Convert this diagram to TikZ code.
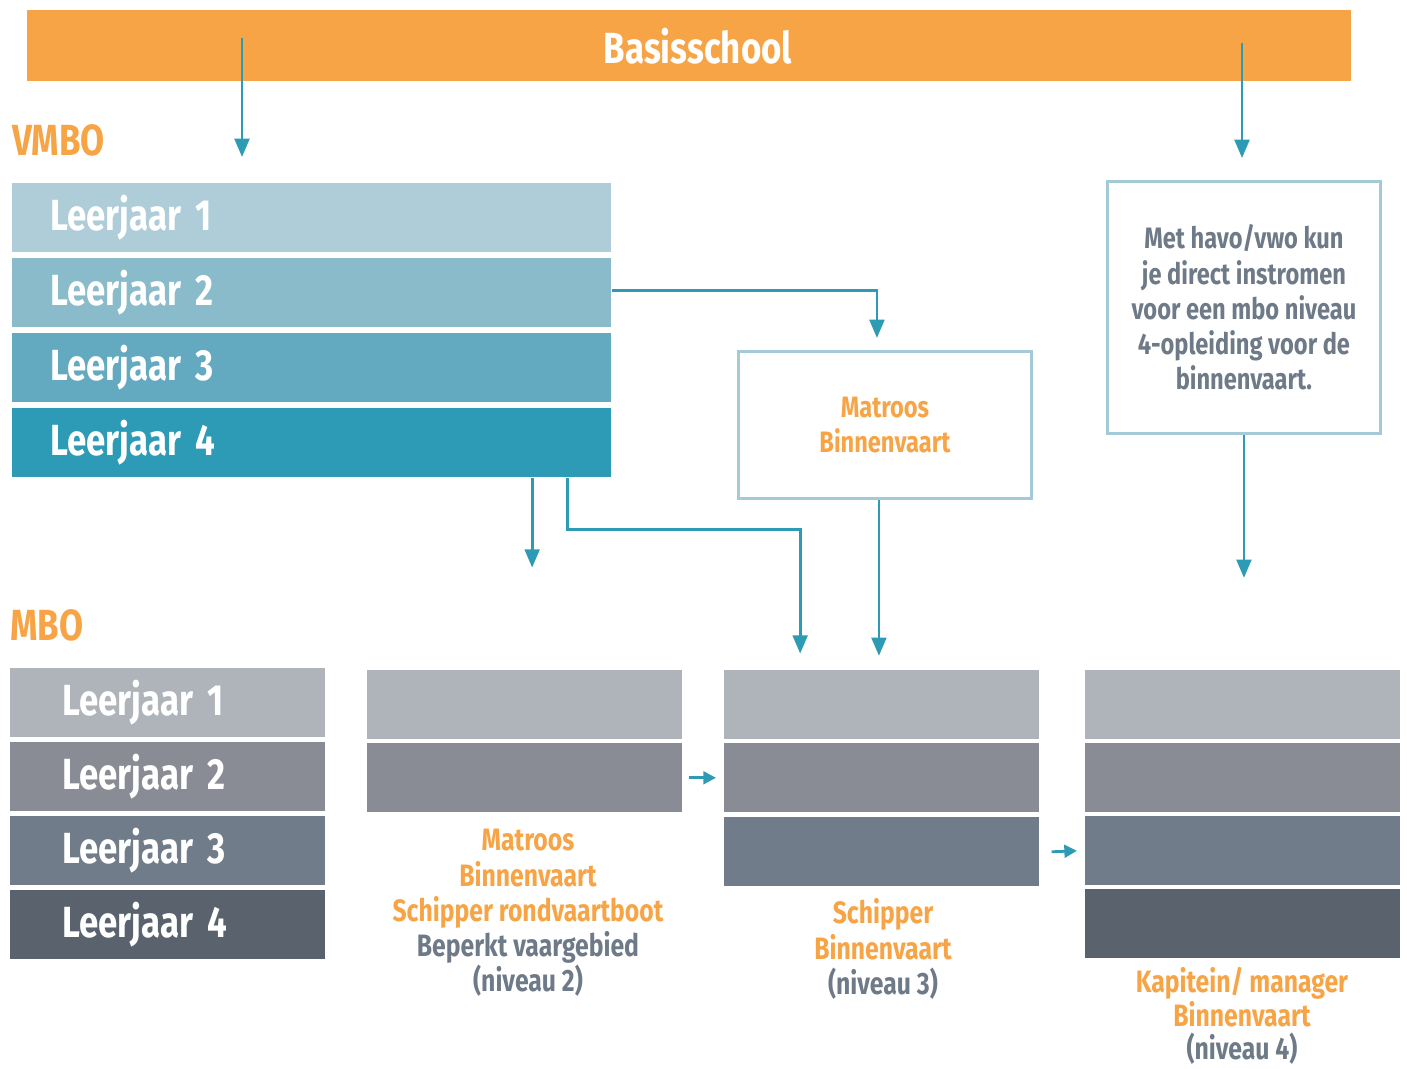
\documentclass[tikz,border=0pt]{standalone}
\usepackage{fontspec}
\setmainfont{Fira Sans}[FakeStretch=0.8]
\usetikzlibrary{arrows.meta}
\usetikzlibrary{positioning}

\definecolor{basisorange}{HTML}{F7A446}
\definecolor{arrowblue}{HTML}{2E9BB5}
\definecolor{boxline}{HTML}{A3CAD6}
\definecolor{txtgray}{HTML}{6E7A87}
\definecolor{vmboa}{HTML}{AECDD9}
\definecolor{vmbob}{HTML}{89BBCB}
\definecolor{vmboc}{HTML}{63A9C0}
\definecolor{vmbod}{HTML}{2D9BB5}
\definecolor{mboa}{HTML}{AFB3BA}
\definecolor{mbob}{HTML}{898C94}
\definecolor{mboc}{HTML}{717C8A}
\definecolor{mbod}{HTML}{5A636D}

\tikzset{
  flow/.style={draw=arrowblue, line width=2pt, -{Triangle[length=13pt,width=10.5pt]}},
  nudge/.style={draw=arrowblue, line width=2pt, -{Triangle[length=9pt,width=9pt]}},
  bigtext/.style={font=\bfseries\fontsize{31}{36}\selectfont},
  vbar/.style={bigtext, anchor=north west, inner sep=0pt, inner xsep=0.95cm,
    text width=13.075cm, minimum height=1.725cm, align=left, text=white},
  mbar/.style={bigtext, anchor=north west, inner sep=0pt, inner xsep=1.3cm,
    text width=5.275cm, minimum height=1.725cm, align=left, text=white},
  lane/.style={anchor=north west, inner sep=0pt, minimum width=7.875cm, minimum height=1.725cm},
  infobox/.style={draw=boxline, line width=2pt, anchor=north west, inner sep=0pt, align=center,
    font=\bfseries\fontsize{21}{25}\selectfont},
  caption/.style={align=center, text=basisorange, font=\bfseries\fontsize{22}{25}\selectfont},
}

\begin{document}
\begin{tikzpicture}[x=0.025cm,y=-0.025cm]
    \useasboundingbox (0,0) rectangle (1407,1069);
    % basisschool
    \node[fill=basisorange, anchor=north west, inner sep=0pt, minimum width=33.075cm,
      minimum height=1.775cm, text=white, bigtext] (basis) at (27,10) {\hspace{0.45cm}Basisschool};
    \coordinate (bl) at (242,38);
    \coordinate (br) at (1242,43);
    % vmbo
    \node[bigtext, text=basisorange, anchor=west, inner sep=0pt] (vmbo) at (12,140) {VMBO};
    \node[vbar, fill=vmboa] (v1) at (12,183) {Leerjaar 1};
    \node[vbar, fill=vmbob] (v2) at (12,258) {Leerjaar 2};
    \node[vbar, fill=vmboc] (v3) at (12,333) {Leerjaar 3};
    \node[vbar, fill=vmbod] (v4) at (12,408) {Leerjaar 4};
    \node[infobox, text=basisorange, minimum width=7.325cm, minimum height=3.675cm] (mat)
      at (737,350) {Matroos\\Binnenvaart};
    \node[infobox, text=txtgray, minimum width=6.825cm, minimum height=6.3cm] (havo)
      at (1106,180) {Met havo/vwo kun\\je direct instromen\\voor een mbo niveau\\4-opleiding voor de\\binnenvaart.};
    % mbo
    \node[bigtext, text=basisorange, anchor=west, inner sep=0pt] (mbo) at (10,625) {MBO};
    \node[mbar, fill=mboa] (m1) at (10,668) {Leerjaar 1};
    \node[mbar, fill=mbob] (m2) at (10,742) {Leerjaar 2};
    \node[mbar, fill=mboc] (m3) at (10,816) {Leerjaar 3};
    \node[mbar, fill=mbod] (m4) at (10,890) {Leerjaar 4};
    \node[lane, fill=mboa] (na) at (367,670) {};
    \node[lane, fill=mbob] (nb) at (367,743) {};
    \node[lane, fill=mboa] (sa) at (724,670) {};
    \node[lane, fill=mbob] (sb) at (724,743) {};
    \node[lane, fill=mboc] (sc) at (724,817) {};
    \node[lane, fill=mboa] (ka) at (1085,670) {};
    \node[lane, fill=mbob] (kb) at (1085,743) {};
    \node[lane, fill=mboc] (kc) at (1085,816) {};
    \node[lane, fill=mbod] (kd) at (1085,889) {};
    \node[caption] (nivtwee) at (528,913) {Matroos\\Binnenvaart\\Schipper rondvaartboot\\
      \textcolor{txtgray}{Beperkt vaargebied}\\\textcolor{txtgray}{(niveau 2)}};
    \node[caption] (nivdrie) at (883,949) {Schipper\\Binnenvaart\\\textcolor{txtgray}{(niveau 3)}};
    \node[caption, font=\bfseries\fontsize{22}{24}\selectfont] (nivvier) at (1242,1016)
      {Kapitein/ manager\\Binnenvaart\\\textcolor{txtgray}{(niveau 4)}};
    % connectors
    \draw[flow] (bl) -- ++(0,119);
    \draw[flow] (br) -- ++(0,115);
    \draw[flow] ([yshift=0.06cm]v2.east) -| ([xshift=-0.2cm,yshift=0.3cm]mat.north);
    \draw[flow] ([xshift=-0.15cm]mat.south) -- ++(0,156);
    \draw[flow] ([xshift=13cm]v4.south west) -- ++(0,90);
    \draw[flow] ([xshift=13.875cm]v4.south west) -- ++(0,52) -- ++(233,0) -- ++(0,124);
    \draw[flow] (havo.south) -- ++(0,143);
    \draw[nudge] ([xshift=0.15cm]nb.east) -- ([xshift=-0.2cm]sb.west);
    \draw[nudge] ([xshift=0.3cm]sc.east) -- ([xshift=-0.2cm]kc.west);
\end{tikzpicture}
\end{document}
